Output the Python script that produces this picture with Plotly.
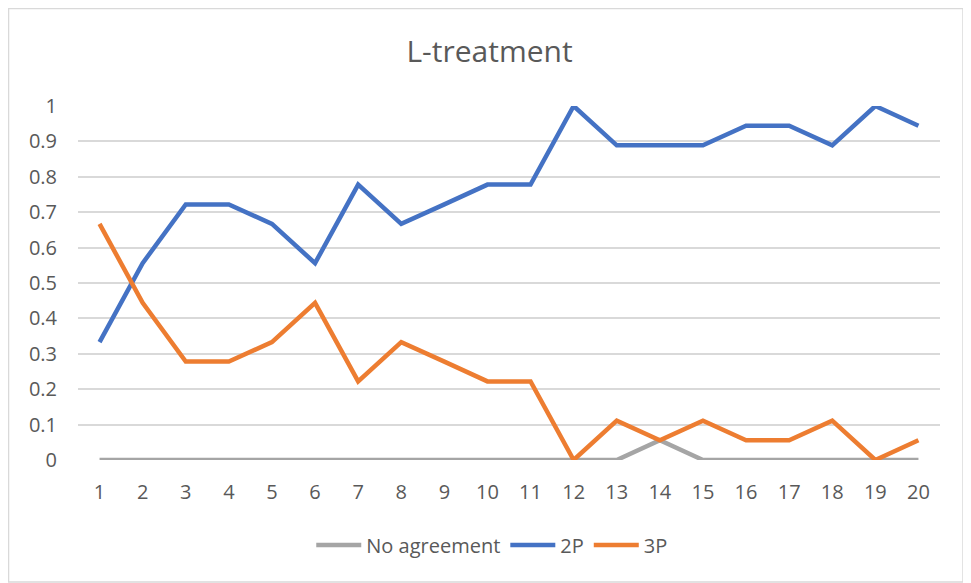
import plotly.graph_objects as go

rounds = [str(i) for i in range(1, 21)]
no_agreement = [0, 0, 0, 0, 0, 0, 0, 0, 0, 0, 0, 0, 0, 0.056, 0, 0, 0, 0, 0, 0]
p2 = [0.333, 0.556, 0.722, 0.722, 0.667, 0.556, 0.778, 0.667, 0.722, 0.778,
      0.778, 1.0, 0.889, 0.889, 0.889, 0.944, 0.944, 0.889, 1.0, 0.944]
p3 = [0.667, 0.444, 0.278, 0.278, 0.333, 0.444, 0.222, 0.333, 0.278, 0.222,
      0.222, 0.0, 0.111, 0.056, 0.111, 0.056, 0.056, 0.111, 0.0, 0.056]
y_ticks = [0, 0.1, 0.2, 0.3, 0.4, 0.5, 0.6, 0.7, 0.8, 0.9, 1]
y_labels = ["0", "0.1", "0.2", "0.3", "0.4", "0.5", "0.6", "0.7", "0.8", "0.9", "1"]

TXT = "#595959"
fig = go.Figure()
fig.add_trace(go.Scatter(x=rounds, y=no_agreement, mode="lines", name="No agreement",
                         line=dict(color="#A5A5A5", width=4.5)))
fig.add_trace(go.Scatter(x=rounds, y=p2, mode="lines", name="2P",
                         line=dict(color="#4472C4", width=4.5)))
fig.add_trace(go.Scatter(x=rounds, y=p3, mode="lines", name="3P",
                         line=dict(color="#ED7D31", width=4.5)))

fig.update_layout(
    width=963, height=575,
    margin=dict(l=70, r=31, t=98, b=123),
    paper_bgcolor="white", plot_bgcolor="white",
    font=dict(family="Open Sans, Liberation Sans, sans-serif", color=TXT, size=20),
    title=dict(text="L-treatment", x=0.5, xanchor="center", y=0.925, yanchor="middle",
               font=dict(size=30, color=TXT)),
    showlegend=True,
    legend=dict(orientation="h", x=0.48, xanchor="center", y=-0.24, yanchor="middle",
                font=dict(size=20, color=TXT), traceorder="normal", itemwidth=45),
    xaxis=dict(type="category", range=[-0.5, 19.5], showgrid=False, showline=False,
               ticks="", zeroline=False, ticklabelstandoff=18,
               tickfont=dict(size=20, color=TXT)),
    yaxis=dict(range=[0, 1], tickvals=y_ticks, ticktext=y_labels, showgrid=True,
               gridcolor="#D9D9D9", gridwidth=1.5, zeroline=False, showline=False,
               ticks="", ticklabelstandoff=20, tickfont=dict(size=20, color=TXT)),
    shapes=[dict(type="rect", xref="paper", yref="paper",
                 x0=-0.0806, x1=1.0267, y0=-0.3446, y1=1.2754,
                 line=dict(color="#D9D9D9", width=1.5), fillcolor="rgba(0,0,0,0)",
                 layer="below")],
)

fig.write_html("out.html")
